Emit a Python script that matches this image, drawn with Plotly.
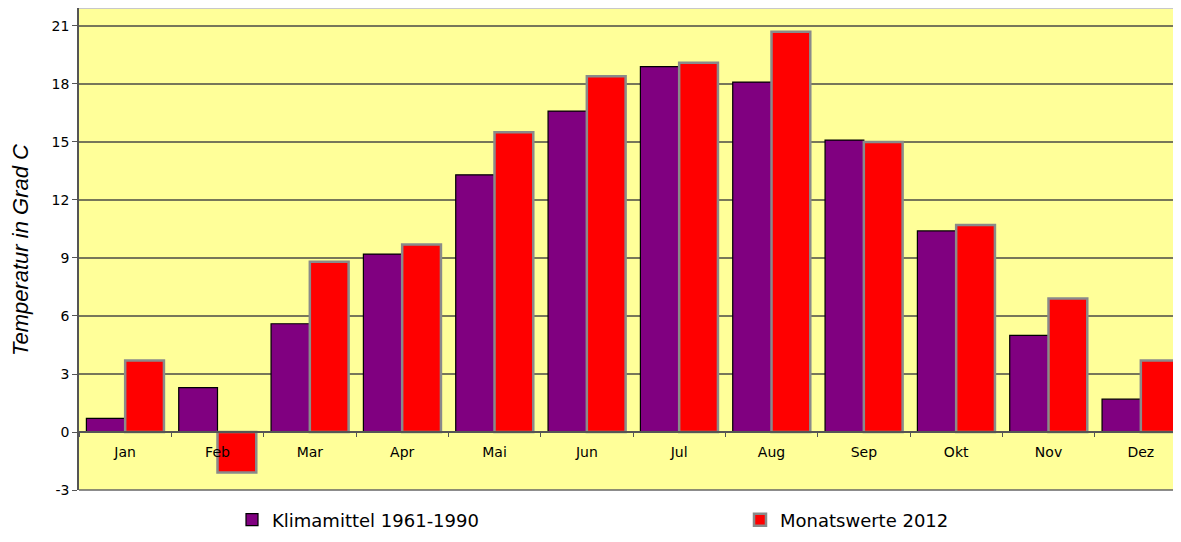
import plotly.graph_objects as go

months = ["Jan", "Feb", "Mar", "Apr", "Mai", "Jun", "Jul", "Aug", "Sep", "Okt", "Nov", "Dez"]
klimamittel = [0.7, 2.3, 5.6, 9.2, 13.3, 16.6, 18.9, 18.1, 15.1, 10.4, 5.0, 1.7]
monatswerte_2012 = [3.7, -2.1, 8.8, 9.7, 15.5, 18.4, 19.1, 20.7, 15.0, 10.7, 6.9, 3.7]
y_ticks = [-3, 0, 3, 6, 9, 12, 15, 18, 21]
y_tick_text = ["-3", "0", "3", "6", "9", "12", "15", "18", "21"]
y_title = "Temperatur in Grad C"

# the page body adds an 8px offset on every side; size and margins compensate
W, H = 1173, 526
ml, mr, mt, mb = 71, 0, 0, 44
plot_h = H - mt - mb
y_lo, y_hi = -3, 21.93
zero_pos = (0 - y_lo) / (y_hi - y_lo)

fig = go.Figure()
fig.add_trace(go.Bar(
    x=months, y=klimamittel, name="Klimamittel 1961-1990",
    marker=dict(color="#800080", line=dict(color="#000000", width=1.2)),
))
fig.add_trace(go.Bar(
    x=months, y=monatswerte_2012, name="Monatswerte 2012",
    marker=dict(color="#FF0000", line=dict(color="#8a8a8a", width=2.5)),
))

font = "Liberation Sans, Arial, sans-serif"
wide = "DejaVu Sans, Liberation Sans, sans-serif"
fig.update_layout(
    width=W, height=H,
    margin=dict(l=ml, r=mr, t=mt, b=mb, pad=0, autoexpand=False),
    paper_bgcolor="white",
    plot_bgcolor="#FFFF99",
    barmode="group",
    bargap=0.16,
    bargroupgap=0.0,
    font=dict(family=font, color="black", size=13),
    xaxis=dict(
        type="category",
        range=[-0.5, 11.435],
        anchor="free", position=zero_pos,
        automargin=False,
        showline=True, linecolor="#555555", linewidth=1.5,
        ticks="outside", tickson="boundaries", ticklen=4, tickcolor="#555555",
        ticklabelstandoff=7,
        showgrid=False,
        tickfont=dict(family=wide, size=14),
    ),
    yaxis=dict(
        range=[y_lo, y_hi],
        tickvals=y_ticks, ticktext=y_tick_text,
        automargin=False,
        showgrid=True, gridcolor="#77775a", gridwidth=1.5,
        zeroline=False,
        showline=True, linecolor="#555555", linewidth=1.5,
        ticks="outside", ticklen=5, tickcolor="#555555",
        tickfont=dict(family=wide, size=14),
    ),
    annotations=[dict(
        text="<i>" + y_title + "</i>", textangle=-90,
        xref="paper", yref="paper",
        x=(12 - ml) / (W - ml - mr), y=(482 - 242) / plot_h,
        xanchor="center", yanchor="middle", showarrow=False,
        font=dict(family=font, size=22, color="black"),
    )],
    legend=dict(
        orientation="h",
        x=224 / W, xanchor="left", xref="container",
        y=(H - 512) / H, yanchor="middle", yref="container",
        entrywidth=463, traceorder="normal",
        font=dict(family=wide, size=18), bgcolor="rgba(0,0,0,0)",
    ),
    shapes=[
        dict(type="line", xref="paper", yref="paper", x0=0, x1=1, y0=0, y1=0,
             line=dict(color="#666666", width=1.5)),
        dict(type="line", xref="paper", yref="paper", x0=0, x1=1, y0=1, y1=1,
             line=dict(color="#c8c8c8", width=2)),
    ],
)

fig.write_html("out.html")
